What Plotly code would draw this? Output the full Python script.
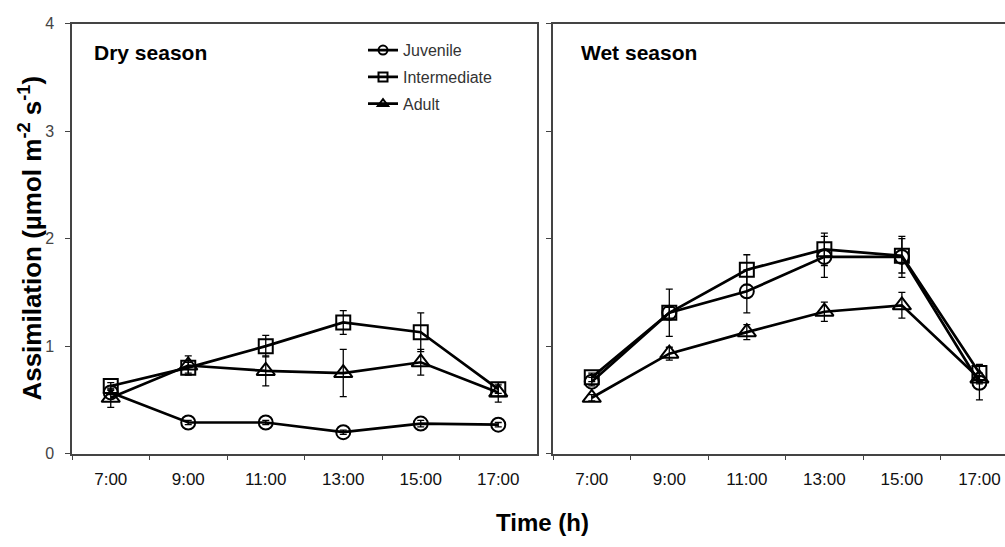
import plotly.graph_objects as go

# Sampling times
times = ["7:00", "9:00", "11:00", "13:00", "15:00", "17:00"]

# Dry season: mean assimilation and standard error
dry_juvenile = [0.57, 0.29, 0.29, 0.20, 0.28, 0.27]
dry_juvenile_err = [0.02, 0.02, 0.02, 0.02, 0.03, 0.02]
dry_intermediate = [0.63, 0.80, 1.00, 1.22, 1.13, 0.60]
dry_intermediate_err = [0.03, 0.05, 0.10, 0.11, 0.18, 0.04]
dry_adult = [0.52, 0.82, 0.77, 0.75, 0.85, 0.57]
dry_adult_err = [0.09, 0.09, 0.14, 0.22, 0.12, 0.09]

# Wet season: mean assimilation and standard error
wet_juvenile = [0.67, 1.31, 1.51, 1.83, 1.83, 0.66]
wet_juvenile_err = [0.04, 0.22, 0.20, 0.19, 0.19, 0.16]
wet_intermediate = [0.71, 1.31, 1.71, 1.90, 1.84, 0.75]
wet_intermediate_err = [0.04, 0.05, 0.14, 0.15, 0.16, 0.08]
wet_adult = [0.52, 0.93, 1.13, 1.32, 1.38, 0.70]
wet_adult_err = [0.03, 0.06, 0.07, 0.09, 0.12, 0.05]

stages = ["Juvenile", "Intermediate", "Adult"]
symbols = ["circle-open", "square-open", "triangle-up-open"]
sizes = [14, 14, 16]

FONT = "Liberation Sans, Arial, sans-serif"
AXIS = "#444444"
W, H = 1005, 547

fig = go.Figure()

panels = [
    ("x", "y", [dry_juvenile, dry_intermediate, dry_adult],
     [dry_juvenile_err, dry_intermediate_err, dry_adult_err]),
    ("x2", "y2", [wet_juvenile, wet_intermediate, wet_adult],
     [wet_juvenile_err, wet_intermediate_err, wet_adult_err]),
]

for xa, ya, series, errs in panels:
    for name, sym, sz, vals, err in zip(stages, symbols, sizes, series, errs):
        fig.add_trace(go.Scatter(
            x=times, y=vals, xaxis=xa, yaxis=ya, name=name,
            mode="lines+markers", showlegend=False,
            line=dict(color="black", width=2.7),
            marker=dict(symbol=sym, size=sz, color="black",
                        line=dict(width=2, color="black")),
            error_y=dict(type="data", array=err, visible=True,
                         color="black", thickness=1.3, width=3.5),
        ))

# Legend entries with small markers
for name, sym in zip(stages, symbols):
    fig.add_trace(go.Scatter(
        x=[None], y=[None], xaxis="x", yaxis="y", name=name,
        mode="lines+markers", legendgroup=name,
        line=dict(color="black", width=2.7),
        marker=dict(symbol=sym, size=9, color="black",
                    line=dict(width=2, color="black")),
    ))

ydom = [1 - 460 / H, 1 - 16 / H]
common_x = dict(
    type="category", categoryorder="array", categoryarray=times,
    tickson="boundaries", ticks="outside", ticklen=5, tickwidth=1.2,
    tickcolor=AXIS, showline=True, linecolor=AXIS, linewidth=1.5,
    mirror=True, showgrid=False, zeroline=False,
    tickfont=dict(family=FONT, size=17, color="#111111"),
    ticklabelstandoff=9,
)
common_y = dict(
    range=[0, 4], tickvals=[0, 1, 2, 3, 4], ticks="outside", ticklen=5,
    tickwidth=1.2, tickcolor=AXIS, showline=True, linecolor=AXIS,
    linewidth=1.5, showgrid=False, zeroline=False, domain=ydom,
    tickfont=dict(family=FONT, size=16, color="#444444"),
    ticklabelstandoff=8,
)

fig.update_layout(
    width=W, height=547,
    margin=dict(l=0, r=0, t=0, b=0),
    paper_bgcolor="white", plot_bgcolor="white",
    font=dict(family=FONT, color="#222222"),
    xaxis=dict(common_x, domain=[72 / W, 537 / W], range=[-0.5, 5.5], anchor="y"),
    yaxis=dict(common_y, anchor="x", mirror=True),
    xaxis2=dict(common_x, domain=[553 / W, 1.0], range=[-0.5, 5.33], anchor="y2"),
    yaxis2=dict(common_y, anchor="x2", mirror=False, showticklabels=False),
    showlegend=True,
    legend=dict(
        x=363 / W, y=1 - 26 / H, xanchor="left", yanchor="top",
        bgcolor="rgba(0,0,0,0)", borderwidth=0,
        traceorder="grouped", tracegroupgap=3, itemwidth=30,
        font=dict(family=FONT, size=16, color="#333333"),
    ),
    annotations=[
        dict(text="Dry season", x=92 / W, y=1 - 46 / H, xref="paper", yref="paper",
             xanchor="left", yanchor="middle", showarrow=False,
             font=dict(family=FONT, size=21, color="black", weight="bold")),
        dict(text="Wet season", x=579 / W, y=1 - 46 / H, xref="paper", yref="paper",
             xanchor="left", yanchor="middle", showarrow=False,
             font=dict(family=FONT, size=21, color="black", weight="bold")),
        dict(text="Time (h)", x=542 / W, y=1 - 531 / H, xref="paper", yref="paper",
             xanchor="center", yanchor="middle", showarrow=False,
             font=dict(family=FONT, size=24, color="black", weight="bold")),
        dict(text="Assimilation (µmol m<sup>-2</sup> s<sup>-1</sup>)",
             x=31 / W, y=1 - 238 / H, xref="paper", yref="paper",
             xanchor="center", yanchor="middle", showarrow=False, textangle=-90,
             font=dict(family=FONT, size=26, color="black", weight="bold")),
    ],
)

fig.write_html("out.html")
